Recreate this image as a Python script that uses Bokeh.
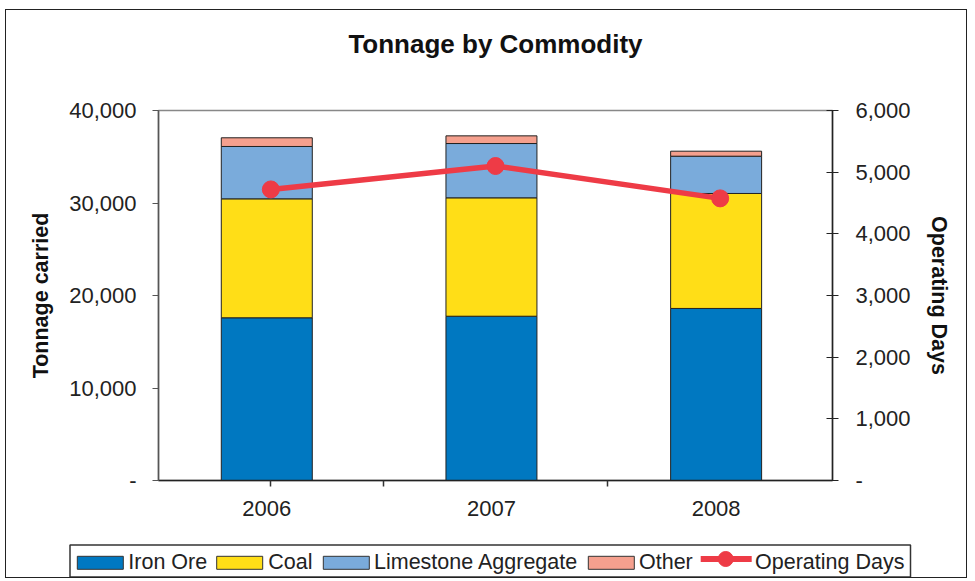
from bokeh.plotting import figure
from bokeh.models import (Range1d, LinearAxis, FixedTicker, CustomJSTickFormatter,
                          ColumnDataSource)
from bokeh.transform import dodge
from bokeh.core.properties import value
from bokeh.embed import file_html
from bokeh.resources import INLINE

# Tonnage carried by commodity per year (stacked), plus operating days
years = ["2006", "2007", "2008"]
iron_ore = [17590, 17760, 18600]
coal = [12860, 12800, 12430]
limestone = [5660, 5870, 4030]
other = [940, 830, 540]
operating_days = [4720, 5100, 4575]

commodities = ["iron_ore", "coal", "limestone", "other"]
legend_names = ["Iron Ore", "Coal", "Limestone Aggregate", "Other"]
colors = ["#0078C1", "#FFDE17", "#7AABDB", "#F5A08E"]
line_name = "Operating Days"
line_color = "#EE3B46"

y_ticks = [0, 10000, 20000, 30000, 40000]
days_ticks = [0, 1000, 2000, 3000, 4000, 5000, 6000]

FONT = "Liberation Sans"
TICK_SIZE = "22px"
LABEL_SIZE = "21.5px"
BAR_SHIFT = -0.018          # bars sit slightly left of the category centre
BORDER = "1.5px solid #222222"

xs = [i + 0.5 for i in range(len(years))]
source = ColumnDataSource(dict(x=xs, iron_ore=iron_ore, coal=coal,
                               limestone=limestone, other=other,
                               days=operating_days))

p = figure(width=962, height=520, output_backend="svg", toolbar_location=None,
           x_range=Range1d(0, len(years)), y_range=Range1d(0, 40000),
           min_border_left=152, min_border_right=136,
           min_border_top=100, min_border_bottom=50,
           title=None)
p.styles = {"margin": "9px 0px 0px 5px", "border-top": BORDER,
            "border-left": BORDER, "border-right": BORDER}
p.extra_y_ranges = {"days": Range1d(0, 6000)}

p.xgrid.visible = False
p.ygrid.visible = False
p.outline_line_color = "#888888"
p.outline_line_width = 1.5

zero_dash = CustomJSTickFormatter(
    code='return tick == 0 ? "-" : tick.toLocaleString("en-US");')

# bottom axis: year labels under the bars, ticks between the years
xa = p.below[0]
xa.ticker = FixedTicker(ticks=[x + BAR_SHIFT for x in xs], minor_ticks=[0.5, 1, 2])
xa.formatter = CustomJSTickFormatter(args=dict(labels=years),
                                     code="return labels[Math.floor(tick)];")
xa.major_tick_out = 0
xa.major_tick_in = 0
xa.minor_tick_out = 6
xa.minor_tick_in = 0
xa.minor_tick_line_color = "#333333"
xa.minor_tick_line_width = 1.5
xa.axis_line_color = "#222222"
xa.axis_line_width = 1.5
xa.major_label_text_font = FONT
xa.major_label_text_font_size = TICK_SIZE
xa.major_label_text_color = "#222222"
xa.major_label_standoff = 14

# left axis: tonnage
ya = p.left[0]
ya.ticker = FixedTicker(ticks=y_ticks)
ya.formatter = zero_dash
ya.axis_label = "Tonnage carried"
ya.axis_label_text_font = FONT
ya.axis_label_text_font_size = LABEL_SIZE
ya.axis_label_text_font_style = "bold"
ya.axis_label_text_color = "#111111"
ya.axis_label_standoff = 13
ya.major_label_text_font = FONT
ya.major_label_text_font_size = TICK_SIZE
ya.major_label_text_color = "#222222"
ya.major_label_standoff = 16
ya.major_tick_out = 6
ya.major_tick_in = 0
ya.minor_tick_line_color = None
ya.axis_line_color = "#555555"
ya.axis_line_width = 1.5
ya.major_tick_line_color = "#555555"

# chart title, carried by an empty axis above the frame
ta = LinearAxis(ticker=FixedTicker(ticks=[], minor_ticks=[]))
ta.axis_line_color = None
ta.major_tick_line_color = None
ta.minor_tick_line_color = None
ta.major_tick_out = 0
ta.minor_tick_out = 0
ta.axis_label = "Tonnage by Commodity"
ta.axis_label_text_font = FONT
ta.axis_label_text_font_size = "26px"
ta.axis_label_text_font_style = "bold"
ta.axis_label_text_color = "#111111"
ta.axis_label_standoff = 52
p.add_layout(ta, "above")

# right axis: operating days
ra = LinearAxis(y_range_name="days", ticker=FixedTicker(ticks=days_ticks),
                formatter=zero_dash)
ra.axis_label = line_name
ra.axis_label_text_font = FONT
ra.axis_label_text_font_size = LABEL_SIZE
ra.axis_label_text_font_style = "bold"
ra.axis_label_text_color = "#111111"
ra.axis_label_standoff = 13
ra.major_label_text_font = FONT
ra.major_label_text_font_size = TICK_SIZE
ra.major_label_text_color = "#222222"
ra.major_label_standoff = 17
ra.major_tick_out = 6
ra.major_tick_in = 6
ra.minor_tick_line_color = None
ra.axis_line_color = "#222222"
ra.axis_line_width = 1.5
ra.major_tick_line_color = "#222222"
p.add_layout(ra, "right")

p.vbar_stack(commodities, x=dodge("x", BAR_SHIFT, range=p.x_range), width=0.405,
             source=source, color=colors, line_color="#222222", line_width=1)

p.line("x", "days", source=source, y_range_name="days",
       line_color=line_color, line_width=5.5)
p.scatter("x", "days", source=source, y_range_name="days", size=17,
          fill_color=line_color, line_color=line_color)

# legend strip under the chart, laid out in page pixels
q = figure(width=962, height=49, output_backend="svg", toolbar_location=None,
           x_range=Range1d(6.5, 968.5), y_range=Range1d(579.5, 530.5),
           x_axis_location=None, y_axis_location=None, min_border=0,
           title=None)
q.styles = {"margin": "0px 0px 0px 5px", "border-bottom": BORDER,
            "border-left": BORDER, "border-right": BORDER}
q.xgrid.visible = False
q.ygrid.visible = False
q.outline_line_color = None

q.quad(left=[70], right=[910.5], top=[546], bottom=[578],
       fill_color="white", line_color="#333333", line_width=1.5)

swatch_left = [77.3, 216.7, 323.3, 588.3]
swatch_w = 46
q.quad(left=swatch_left, right=[v + swatch_w for v in swatch_left],
       top=[557.3] * 4, bottom=[570.3] * 4,
       fill_color=colors, line_color="#333333", line_width=1)

q.line(x=[700.7, 751.7], y=[560, 560], line_color=line_color, line_width=6)
q.scatter(x=[725.7], y=[560], size=15, fill_color=line_color,
          line_color=line_color)

q.text(x=[128.3, 268.3, 374, 639, 755], y=[563] * 5,
       text=legend_names + [line_name],
       text_font=value(FONT), text_font_size="21.5px", text_color="#222222",
       text_baseline="middle", text_align="left")

open("out.html", "w").write(file_html([p, q], INLINE))
